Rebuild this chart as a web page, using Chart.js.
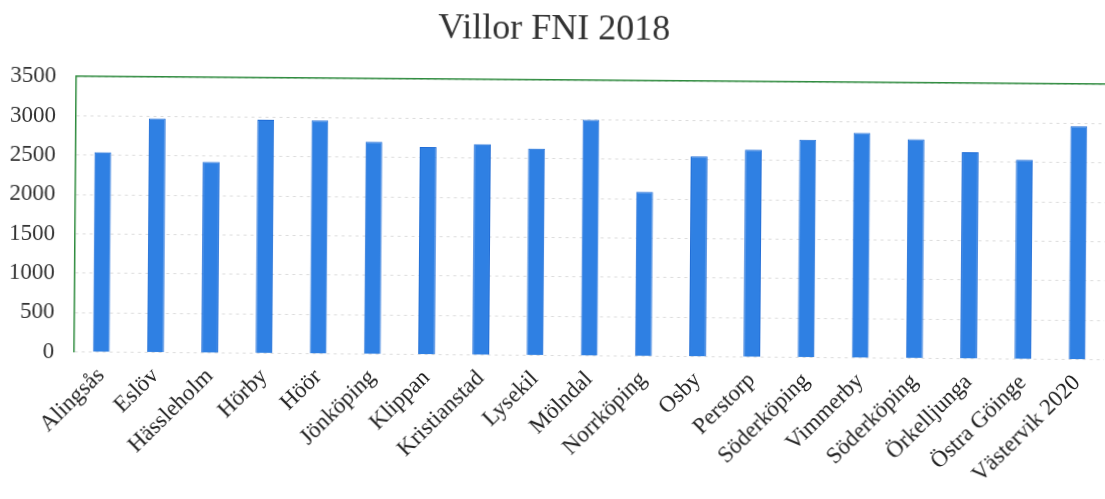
<!DOCTYPE html>
<html>
<head>
<meta charset="utf-8">
<script src="https://cdn.jsdelivr.net/npm/chart.js@4/dist/chart.umd.min.js"></script>
<style>
  html, body { margin: 0; padding: 0; background: #fff; }
  #wrap { width: 1105px; height: 499px; overflow: hidden; }
  #villor { transform: rotate(0.44deg); transform-origin: 552px 250px; }
</style>
</head>
<body>
<div id="wrap"><canvas id="villor" width="1105" height="499"></canvas></div>
<script>
// Villor FNI 2018 - bar chart

const kommuner = ['Alingsås', 'Eslöv', 'Hässleholm', 'Hörby', 'Höör', 'Jönköping', 'Klippan',
    'Kristianstad', 'Lysekil', 'Mölndal', 'Norrköping', 'Osby', 'Perstorp', 'Söderköping',
    'Vimmerby', 'Söderköping', 'Örkelljunga', 'Östra Göinge', 'Västervik 2020'];
const fni = [2540, 2975, 2430, 2970, 2965, 2700, 2640, 2680, 2630, 3000, 2090, 2545, 2635,
    2770, 2860, 2785, 2625, 2535, 2965];
const yMin = 0;
const yMax = 3500;
const yStep = 500;

const serif = '"Liberation Serif", "DejaVu Serif", serif';

const ctx = document.getElementById('villor').getContext('2d');

new Chart(ctx, {
    type: 'bar',
    data: {
        labels: kommuner,
        datasets: [{
            label: 'Villor FNI 2018',
            data: fni,
            backgroundColor: '#2f80e3',
            borderColor: '#1d6bd6',
            borderWidth: 1,
            barPercentage: 0.31,
            categoryPercentage: 1
        }]
    },
    options: {
        responsive: false,
        animation: false,
        layout: { padding: { top: 8, right: 0, left: 0, bottom: 12 } },
        plugins: {
            legend: { display: false },
            tooltip: { enabled: false },
            title: {
                display: true,
                text: 'Villor FNI 2018',
                color: '#333',
                font: { family: serif, size: 36, weight: 'normal' },
                padding: { top: 0, bottom: 29 }
            }
        },
        scales: {
            x: {
                grid: { display: false },
                border: { display: false },
                ticks: {
                    color: '#222',
                    font: { family: serif, size: 23 },
                    minRotation: 45,
                    maxRotation: 45,
                    autoSkip: false,
                    padding: 2
                }
            },
            xTop: {
                position: 'top',
                labels: kommuner,
                grid: { display: false, drawTicks: false },
                border: { display: true, color: '#2e8b3e', width: 1.5 },
                ticks: { display: false }
            },
            y: {
                min: yMin,
                max: yMax,
                afterFit: scale => { scale.width = 75; },
                ticks: {
                    stepSize: yStep,
                    color: '#333',
                    font: { family: serif, size: 23 },
                    padding: 20,
                    callback: v => String(v)
                },
                grid: {
                    color: '#dcdcdc',
                    lineWidth: 1,
                    drawTicks: false
                },
                border: { display: true, color: '#2e8b3e', width: 1.5, dash: [3, 4] }
            }
        }
    }
});
</script>
</body>
</html>
